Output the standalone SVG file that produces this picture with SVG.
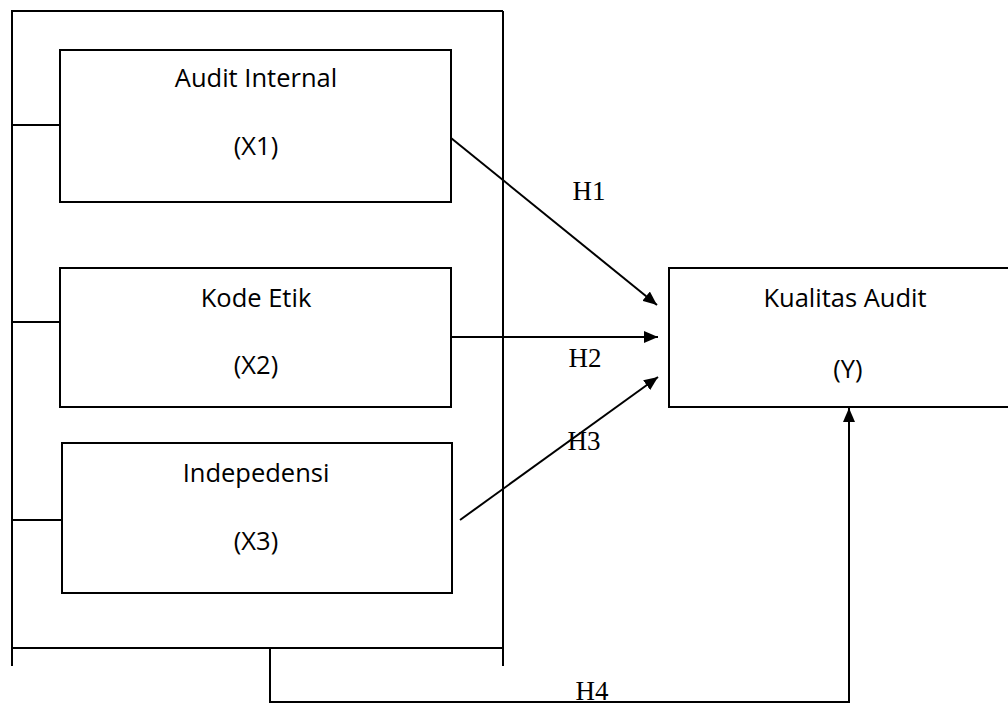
<svg xmlns="http://www.w3.org/2000/svg" width="1008" height="703" viewBox="0 0 1008 703">
<defs>
<marker id="ah" viewBox="0 0 14 12" refX="14" refY="6" markerWidth="14" markerHeight="12" markerUnits="userSpaceOnUse" orient="auto">
<path d="M0,0 L14,6 L0,12 z" fill="#000"/>
</marker>
<style>
.box{fill:#fff;stroke:#000;stroke-width:2}
.ln{fill:none;stroke:#000;stroke-width:2}
.lbl{font-family:"Open Sans","Noto Sans",sans-serif;font-size:25.5px;fill:#000;text-anchor:middle}
.h{font-family:"Liberation Serif","Times New Roman",serif;font-size:27px;fill:#000;text-anchor:middle}
</style>
</defs>
<rect width="1008" height="703" fill="#fff"/>
<g id="frame">
<path class="ln" d="M11,11 H503 M12,11 V666 M503,11 V666 M12,648 H503 M12,125 H60 M12,322 H60 M12,520 H62"/>
</g>
<g id="x1">
<rect class="box" x="60" y="50" width="391" height="152"/>
<text class="lbl" x="256" y="87">Audit Internal</text>
<text class="lbl" x="256" y="155">(X1)</text>
</g>
<g id="x2">
<rect class="box" x="60" y="268" width="391" height="139"/>
<text class="lbl" x="256" y="307">Kode Etik</text>
<text class="lbl" x="256" y="374">(X2)</text>
</g>
<g id="x3">
<rect class="box" x="62" y="443" width="390" height="150"/>
<text class="lbl" x="256" y="482">Indepedensi</text>
<text class="lbl" x="256" y="550">(X3)</text>
</g>
<g id="y">
<rect class="box" x="669" y="268" width="350" height="139"/>
<text class="lbl" x="845" y="307">Kualitas Audit</text>
<text class="lbl" x="848" y="378">(Y)</text>
</g>
<g id="connectors">
<line class="ln" x1="451" y1="138" x2="657" y2="305" marker-end="url(#ah)"/>
<line class="ln" x1="451" y1="337" x2="658" y2="337" marker-end="url(#ah)"/>
<line class="ln" x1="460" y1="520" x2="658" y2="377" marker-end="url(#ah)"/>
<path class="ln" d="M270,648 V702 H849 V408" marker-end="url(#ah)"/>
<text class="h" x="589" y="200">H1</text>
<text class="h" x="585" y="367">H2</text>
<text class="h" x="584" y="450">H3</text>
<text class="h" x="592" y="700">H4</text>
</g>
</svg>
